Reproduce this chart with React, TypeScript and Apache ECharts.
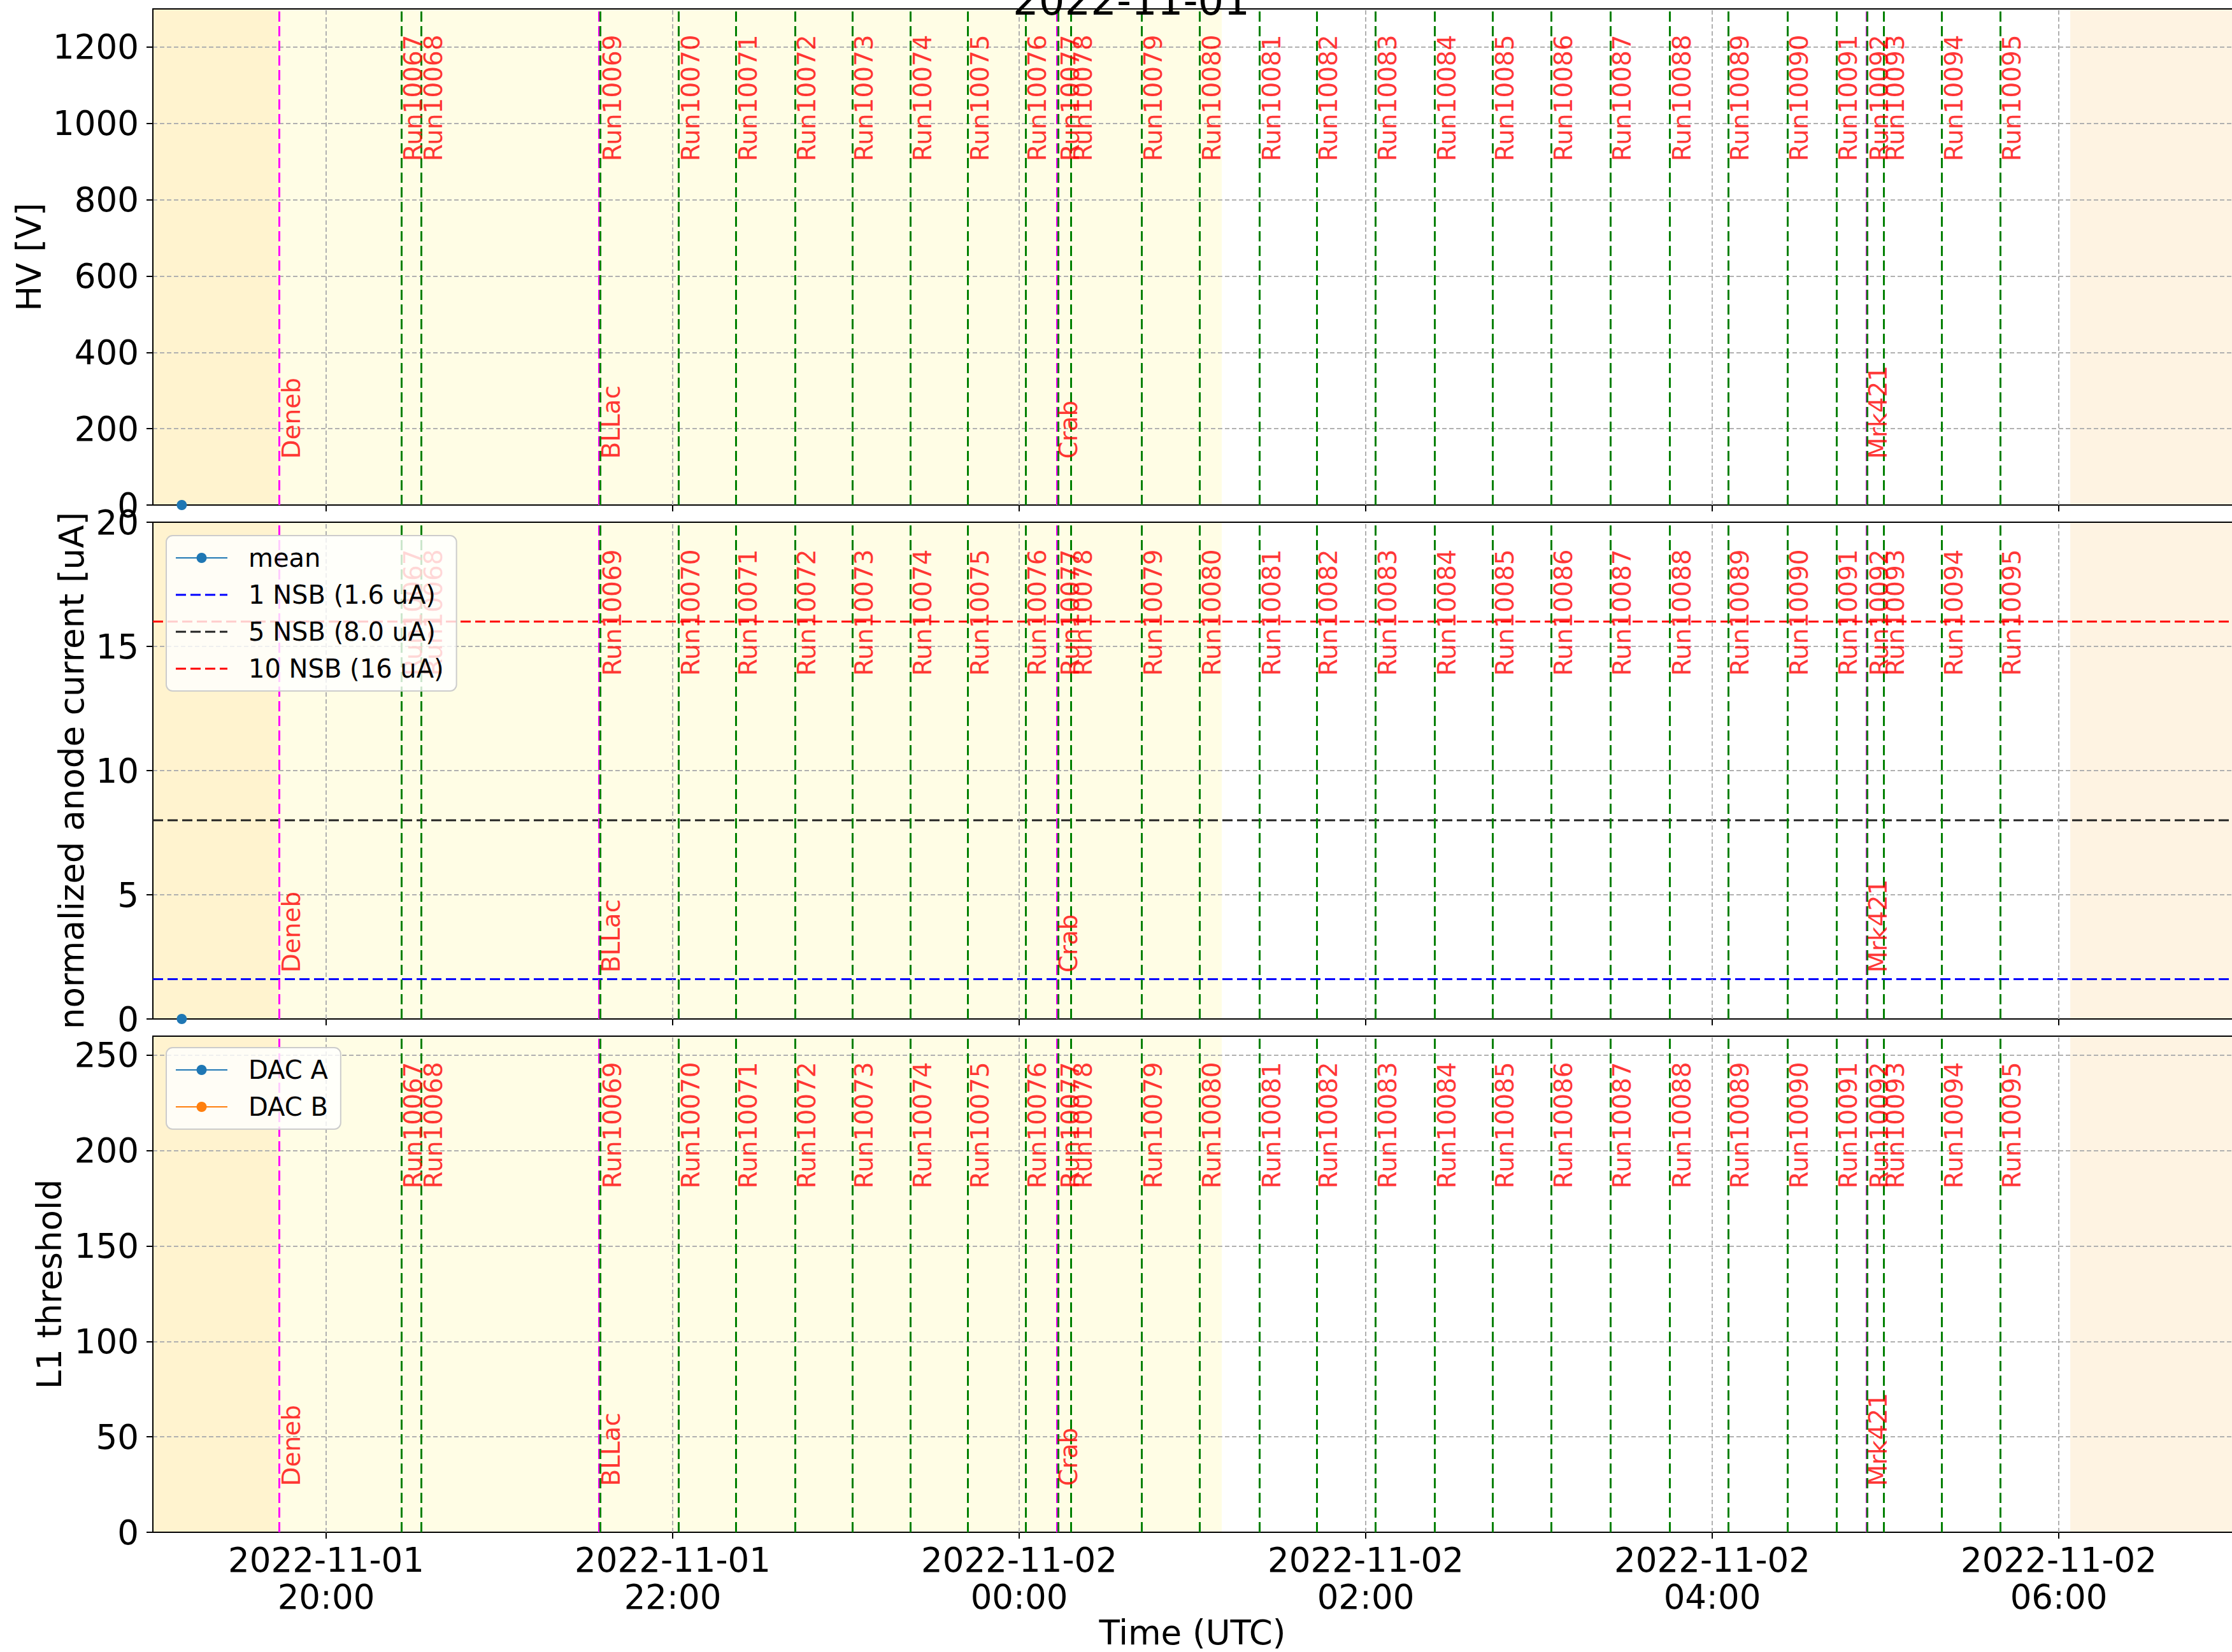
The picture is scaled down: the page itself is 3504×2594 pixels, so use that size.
import React, { useEffect, useRef } from "react";
import * as echarts from "echarts";

const FONT = "DejaVu Sans";
const TITLE = "2022-11-01";

const X_MIN = "2022-11-01T19:00:00Z";
const X_MAX = "2022-11-02T07:00:00Z";
const X_TICKS = [
  "2022-11-01T20:00:00Z",
  "2022-11-01T22:00:00Z",
  "2022-11-02T00:00:00Z",
  "2022-11-02T02:00:00Z",
  "2022-11-02T04:00:00Z",
  "2022-11-02T06:00:00Z",
];

const RUN_NAMES = [
  "Run10067", "Run10068", "Run10069", "Run10070", "Run10071", "Run10072",
  "Run10073", "Run10074", "Run10075", "Run10076", "Run10077", "Run10078",
  "Run10079", "Run10080", "Run10081", "Run10082", "Run10083", "Run10084",
  "Run10085", "Run10086", "Run10087", "Run10088", "Run10089", "Run10090",
  "Run10091", "Run10092", "Run10093", "Run10094", "Run10095",
];
const RUN_TIMES = [
  "2022-11-01T20:26:00Z", "2022-11-01T20:33:00Z", "2022-11-01T21:35:00Z",
  "2022-11-01T22:02:00Z", "2022-11-01T22:22:00Z", "2022-11-01T22:42:20Z",
  "2022-11-01T23:02:10Z", "2022-11-01T23:22:20Z", "2022-11-01T23:42:10Z",
  "2022-11-02T00:02:10Z", "2022-11-02T00:13:30Z", "2022-11-02T00:18:00Z",
  "2022-11-02T00:42:20Z", "2022-11-02T01:02:30Z", "2022-11-02T01:23:10Z",
  "2022-11-02T01:43:00Z", "2022-11-02T02:03:20Z", "2022-11-02T02:23:50Z",
  "2022-11-02T02:44:00Z", "2022-11-02T03:04:20Z", "2022-11-02T03:24:40Z",
  "2022-11-02T03:45:20Z", "2022-11-02T04:05:30Z", "2022-11-02T04:26:00Z",
  "2022-11-02T04:43:00Z", "2022-11-02T04:53:40Z", "2022-11-02T04:59:20Z",
  "2022-11-02T05:19:30Z", "2022-11-02T05:39:40Z",
];

const SOURCE_NAMES = ["Deneb", "BLLac", "Crab", "Mrk421"];
const SOURCE_TIMES = [
  "2022-11-01T19:43:50Z",
  "2022-11-01T21:34:30Z",
  "2022-11-02T00:13:00Z",
  "2022-11-02T04:53:20Z",
];

const SHADE_STARTS = ["2022-11-01T19:00:00Z", "2022-11-01T19:43:50Z", "2022-11-02T06:04:00Z"];
const SHADE_ENDS = ["2022-11-01T19:43:50Z", "2022-11-02T01:10:10Z", "2022-11-02T07:00:00Z"];
const SHADE_COLORS = ["#fff3cf", "#fffde5", "#fef3e2"];

const MEAN_TIMES = ["2022-11-01T19:10:00Z"];
const HV_MEAN = [0];
const CURRENT_MEAN = [0];
const DAC_A_TIMES: string[] = [];
const DAC_A: number[] = [];
const DAC_B_TIMES: string[] = [];
const DAC_B: number[] = [];

const NSB_NAMES = ["1 NSB (1.6 uA)", "5 NSB (8.0 uA)", "10 NSB (16 uA)"];
const NSB_LEVELS = [1.6, 8.0, 16];
const NSB_COLORS = ["#0000ff", "#222222", "#ff0000"];

const Y_NAMES = ["HV [V]", "normalized anode current [uA]", "L1 threshold"];
const Y_MAX = [1300, 20, 260];
const Y_INTERVAL = [200, 5, 50];
const RUN_LABEL_Y = [900, 13.8, 180];
const SOURCE_LABEL_Y = [120, 1.85, 24];

const ms = (s: string) => Date.parse(s);
const pad = (n: number) => (n < 10 ? "0" + n : "" + n);
const fmtTime = (v: number) => {
  const d = new Date(v);
  return `${d.getUTCFullYear()}-${pad(d.getUTCMonth() + 1)}-${pad(d.getUTCDate())}\n${pad(d.getUTCHours())}:${pad(d.getUTCMinutes())}`;
};

const GRIDS = [
  { top: 14, height: 779 },
  { top: 820, height: 780 },
  { top: 1627, height: 779 },
];
const NAME_GAPS = [165, 101, 136];
const DASH_ICON = "path://M0,0h16v3h-16zM23,0h16v3h-16zM46,0h16v3h-16zM69,0h12v3h-12z";

function buildOption() {
  const xmin = ms(X_MIN);
  const xmax = ms(X_MAX);
  const ticks = X_TICKS.map(ms);
  const axisColor = "#000";
  const grid = GRIDS.map((g) => ({ left: 240, width: 3270, top: g.top, height: g.height }));

  const xAxis: any[] = [];
  for (let i = 0; i < 3; i++) {
    xAxis.push({
      type: "value",
      gridIndex: i,
      min: xmin,
      max: xmax,
      position: "bottom",
      z: 2,
      axisLine: { show: true, onZero: false, lineStyle: { color: axisColor, width: 2 } },
      axisTick: { show: true, customValues: ticks, length: 10, lineStyle: { color: axisColor, width: 2 } },
      axisLabel: {
        show: i === 2,
        customValues: ticks,
        formatter: (v: number) => fmtTime(v),
        fontSize: 53,
        lineHeight: 58,
        margin: 14,
        color: "#000",
        fontFamily: FONT,
      },
      splitLine: { show: false },
      name: i === 2 ? "Time (UTC)" : "",
      nameLocation: "middle",
      nameGap: 130,
      nameTextStyle: { fontSize: 53, color: "#000", fontFamily: FONT },
    });
  }
  for (let i = 0; i < 3; i++) {
    xAxis.push({
      type: "value",
      gridIndex: i,
      min: xmin,
      max: xmax,
      position: "top",
      z: 2,
      axisLine: { show: true, onZero: false, lineStyle: { color: axisColor, width: 2 } },
      axisTick: { show: false },
      axisLabel: { show: false },
      splitLine: { show: false },
    });
  }

  const yAxis: any[] = [];
  for (let i = 0; i < 3; i++) {
    yAxis.push({
      type: "value",
      gridIndex: i,
      min: 0,
      max: Y_MAX[i],
      interval: Y_INTERVAL[i],
      z: 2,
      axisLine: { show: true, onZero: false, lineStyle: { color: axisColor, width: 2 } },
      axisTick: { show: true, length: 10, lineStyle: { color: axisColor, width: 2 } },
      axisLabel: {
        fontSize: 53,
        color: "#000",
        fontFamily: FONT,
        margin: 22,
        formatter: (v: number) => String(v),
        showMaxLabel: Y_MAX[i] % Y_INTERVAL[i] === 0,
      },
      splitLine: { show: true, lineStyle: { color: "#b0b0b0", width: 2, type: [7, 4] } },
      name: Y_NAMES[i],
      nameLocation: "middle",
      nameGap: NAME_GAPS[i],
      nameTextStyle: { fontSize: 53, color: "#000", fontFamily: FONT },
    });
  }

  const labelStyle = {
    show: true,
    position: [0, 0],
    rotate: 90,
    align: "left",
    verticalAlign: "top",
    formatter: "{b}",
    color: "#ff0000",
    fontSize: 39,
    fontFamily: FONT,
  };

  const series: any[] = [];
  for (let i = 0; i < 3; i++) {
    series.push({
      type: "line",
      xAxisIndex: i,
      yAxisIndex: i,
      data: [],
      z: 1,
      silent: true,
      markArea: {
        silent: true,
        data: SHADE_STARTS.map((s, k) => [
          { xAxis: ms(s), itemStyle: { color: SHADE_COLORS[k] } },
          { xAxis: ms(SHADE_ENDS[k]) },
        ]),
      },
    });
    series.push({
      type: "line",
      xAxisIndex: i,
      yAxisIndex: i,
      data: [],
      z: 2,
      silent: true,
      markLine: {
        silent: true,
        symbol: ["none", "none"],
        label: { show: false },
        lineStyle: { color: "#b0b0b0", width: 2, type: [7, 4] },
        data: ticks.map((t) => ({ xAxis: t })),
      },
    });
    series.push({
      type: "line",
      xAxisIndex: i,
      yAxisIndex: i,
      data: [],
      z: 3,
      silent: true,
      markLine: {
        silent: true,
        symbol: ["none", "none"],
        label: { show: false },
        lineStyle: { color: "#ff00ff", width: 3, type: [16, 7] },
        data: SOURCE_TIMES.map((t) => ({ xAxis: ms(t) })),
      },
    });
    series.push({
      type: "line",
      xAxisIndex: i,
      yAxisIndex: i,
      data: [],
      z: 3,
      silent: true,
      markLine: {
        silent: true,
        symbol: ["none", "none"],
        label: { show: false },
        lineStyle: { color: "#008000", width: 3, type: [16, 7] },
        data: RUN_TIMES.map((t) => ({ xAxis: ms(t) })),
      },
    });
    series.push({
      type: "scatter",
      xAxisIndex: i,
      yAxisIndex: i,
      z: 5,
      silent: true,
      symbolSize: 1,
      itemStyle: { color: "rgba(0,0,0,0)" },
      data: RUN_NAMES.map((n, k) => ({ name: n, value: [ms(RUN_TIMES[k]), RUN_LABEL_Y[i]] })),
      label: labelStyle,
    });
    series.push({
      type: "scatter",
      xAxisIndex: i,
      yAxisIndex: i,
      z: 5,
      silent: true,
      symbolSize: 1,
      itemStyle: { color: "rgba(0,0,0,0)" },
      data: SOURCE_NAMES.map((n, k) => ({ name: n, value: [ms(SOURCE_TIMES[k]), SOURCE_LABEL_Y[i]] })),
      label: labelStyle,
    });
  }

  const blue = "#1f77b4";
  const orange = "#ff7f0e";
  series.push({
    name: "mean",
    type: "line",
    xAxisIndex: 0,
    yAxisIndex: 0,
    z: 4,
    symbol: "circle",
    symbolSize: 16,
    itemStyle: { color: blue },
    lineStyle: { color: blue, width: 3 },
    data: MEAN_TIMES.map((t, k) => [ms(t), HV_MEAN[k]]),
  });
  series.push({
    name: "mean",
    type: "line",
    xAxisIndex: 1,
    yAxisIndex: 1,
    z: 4,
    symbol: "circle",
    symbolSize: 16,
    itemStyle: { color: blue },
    lineStyle: { color: blue, width: 3 },
    data: MEAN_TIMES.map((t, k) => [ms(t), CURRENT_MEAN[k]]),
  });
  NSB_NAMES.forEach((n, k) => {
    series.push({
      name: n,
      type: "line",
      xAxisIndex: 1,
      yAxisIndex: 1,
      z: 4,
      symbol: "none",
      itemStyle: { color: NSB_COLORS[k] },
      lineStyle: { color: NSB_COLORS[k], width: 3, type: [16, 7] },
      data: [
        [xmin, NSB_LEVELS[k]],
        [xmax, NSB_LEVELS[k]],
      ],
    });
  });
  series.push({
    name: "DAC A",
    type: "line",
    xAxisIndex: 2,
    yAxisIndex: 2,
    z: 4,
    symbol: "circle",
    symbolSize: 16,
    itemStyle: { color: blue },
    lineStyle: { color: blue, width: 3 },
    data: DAC_A_TIMES.map((t, k) => [ms(t), DAC_A[k]]),
  });
  series.push({
    name: "DAC B",
    type: "line",
    xAxisIndex: 2,
    yAxisIndex: 2,
    z: 4,
    symbol: "circle",
    symbolSize: 16,
    itemStyle: { color: orange },
    lineStyle: { color: orange, width: 3 },
    data: DAC_B_TIMES.map((t, k) => [ms(t), DAC_B[k]]),
  });

  const legendBase = {
    orient: "vertical",
    left: 261,
    z: 10,
    itemWidth: 81,
    itemHeight: 20,
    itemGap: 12,
    padding: [12, 20, 12, 14],
    backgroundColor: "rgba(255,255,255,0.8)",
    borderColor: "#cccccc",
    borderWidth: 2,
    borderRadius: 10,
    selectedMode: false,
    textStyle: { fontSize: 40, lineHeight: 46, color: "#000", fontFamily: FONT, padding: [0, 0, 0, 28] },
  };

  return {
    animation: false,
    backgroundColor: "#ffffff",
    textStyle: { fontFamily: FONT },
    grid,
    xAxis,
    yAxis,
    series,
    legend: [
      {
        ...legendBase,
        top: 841,
        data: ["mean", ...NSB_NAMES.map((n) => ({ name: n, icon: DASH_ICON }))],
      },
      { ...legendBase, top: 1645, data: ["DAC A", "DAC B"] },
    ],
    graphic: [
      {
        type: "text",
        x: 1776,
        y: 33,
        z: 20,
        style: {
          text: TITLE,
          fill: "#000",
          font: `64px "${FONT}"`,
          align: "center",
          verticalAlign: "bottom",
        },
      },
    ],
  };
}

export default function App() {
  const ref = useRef<HTMLDivElement>(null);
  useEffect(() => {
    if (!ref.current) return;
    const chart = echarts.init(ref.current, undefined, { renderer: "svg" });
    chart.setOption(buildOption() as any);
    return () => chart.dispose();
  }, []);
  return (
    <div
      ref={ref}
      style={{ position: "absolute", left: 0, top: 0, width: 3504, height: 2594, background: "#fff" }}
    />
  );
}
